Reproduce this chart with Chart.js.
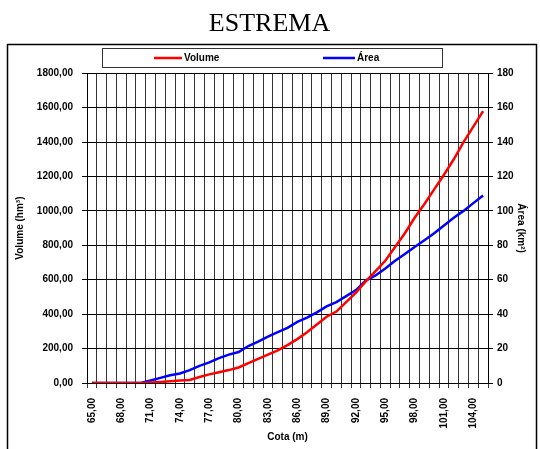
<!DOCTYPE html>
<html>
<head>
<meta charset="utf-8">
<script src="https://cdn.jsdelivr.net/npm/chart.js@4.4.1/dist/chart.umd.min.js"></script>
<style>
  html, body { margin: 0; padding: 0; background: #fff; }
  #wrap { width: 540px; height: 449px; }
</style>
</head>
<body>
<div id="wrap"><canvas id="myChart" width="540" height="449"></canvas></div>
<script>
// cota (m) per category
var cotas = [65, 66, 67, 68, 69, 70, 71, 72, 73, 74, 75, 76, 77, 78, 79, 80, 81, 82, 83, 84,
  85, 86, 87, 88, 89, 90, 91, 92, 93, 94, 95, 96, 97, 98, 99, 100, 101, 102, 103, 104, 105];
// volume (hm3), left axis
var volume = [0, 0, 0, 0, 0, 0, 3, 6, 10, 14, 18, 35, 50, 63, 75, 90, 115, 140, 165, 190,
  220, 255, 295, 340, 385, 415, 470, 525, 590, 650, 710, 790, 870, 960, 1040, 1125, 1210, 1300, 1400, 1490, 1580];
// area (km2), right axis
var area = [0, 0, 0, 0, 0, 0, 1.5, 3, 4.5, 5.5, 7.5, 10, 12, 14.5, 16.5, 18, 21.5, 24, 27, 29.5,
  32, 35.5, 38, 41, 44.5, 47, 50.5, 54, 59.5, 62.5, 66.5, 71, 75, 79, 83, 87, 91.5, 96, 100, 104.5, 109];
var seriesNames = ["Volume", "Área"];
var seriesColors = ["#ff0000", "#0000ff"];

var FONT = "'Liberation Sans', Arial, sans-serif";

function comma2(v) {
  return Number(v).toFixed(2).replace(".", ",");
}

// frame round the chart + the boxed legend
var framePlugin = {
  id: "frame",
  afterDraw: function (chart) {
    var ctx = chart.ctx;
    ctx.save();
    ctx.strokeStyle = "#000";
    ctx.lineWidth = 1.5;
    ctx.strokeRect(7.5, 44.5, 529, 420);

    // legend box
    ctx.lineWidth = 1;
    ctx.strokeStyle = "#333";
    ctx.strokeRect(102.5, 48.5, 340, 19);

    var items = [{ x: 154, w: 28 }, { x: 323, w: 32 }];
    ctx.font = "bold 10px " + FONT;
    ctx.textBaseline = "middle";
    ctx.textAlign = "left";
    for (var i = 0; i < chart.data.datasets.length; i++) {
      var ds = chart.data.datasets[i];
      ctx.strokeStyle = ds.borderColor;
      ctx.lineWidth = 2.5;
      ctx.beginPath();
      ctx.moveTo(items[i].x, 58);
      ctx.lineTo(items[i].x + items[i].w, 58);
      ctx.stroke();
      ctx.fillStyle = "#000";
      ctx.fillText(ds.label, items[i].x + items[i].w + 2, 58);
    }
    ctx.restore();
  }
};

var canvas = document.getElementById("myChart");
var myChart = new Chart(canvas, {
  type: "line",
  data: {
    labels: cotas,
    datasets: [{
      label: seriesNames[0],
      data: volume,
      borderColor: seriesColors[0],
      backgroundColor: seriesColors[0],
      borderWidth: 2.5,
      pointRadius: 0,
      tension: 0,
      yAxisID: "y"
    }, {
      label: seriesNames[1],
      data: area,
      borderColor: seriesColors[1],
      backgroundColor: seriesColors[1],
      borderWidth: 2.5,
      pointRadius: 0,
      tension: 0,
      yAxisID: "y1"
    }]
  },
  options: {
    responsive: false,
    animation: false,
    layout: { padding: { left: 7, right: 8, top: 0, bottom: 0 } },
    plugins: {
      legend: { display: false },
      tooltip: { enabled: false },
      title: {
        display: true,
        text: "ESTREMA",
        color: "#000",
        font: { family: "'Liberation Serif', 'Times New Roman', serif", size: 26, weight: "normal" },
        padding: { top: 9, bottom: 33 }
      }
    },
    scales: {
      x: {
        type: "category",
        offset: true,
        grid: { display: true, offset: true, color: "#333", lineWidth: 1, tickLength: 5, drawOnChartArea: true },
        border: { display: true, color: "#000", width: 1 },
        ticks: {
          autoSkip: false,
          minRotation: 90,
          maxRotation: 90,
          padding: 10,
          color: "#000",
          font: { family: FONT, size: 10, weight: "bold" },
          callback: function (val, idx) {
            return idx % 3 === 0 ? comma2(cotas[idx]) : "";
          }
        },
        title: {
          display: true,
          text: "Cota (m)",
          color: "#000",
          font: { family: FONT, size: 10, weight: "bold" },
          padding: { top: 0, bottom: 6 }
        },
        afterFit: function (scale) { scale.height = 66; }
      },
      y: {
        position: "left",
        min: 0,
        max: 1800,
        grid: { color: "#000", lineWidth: 1, tickLength: 5 },
        border: { display: true, color: "#000", width: 1 },
        ticks: {
          stepSize: 200,
          padding: 9,
          color: "#000",
          font: { family: FONT, size: 10, weight: "bold" },
          callback: function (v) { return comma2(v); }
        },
        title: {
          display: true,
          text: "Volume (hm³)",
          color: "#000",
          font: { family: FONT, size: 10, weight: "bold" },
          padding: { top: 7, bottom: 0 }
        },
        afterFit: function (scale) { scale.width = 80; }
      },
      y1: {
        position: "right",
        min: 0,
        max: 180,
        grid: { drawOnChartArea: false, color: "#000", tickLength: 5 },
        border: { display: true, color: "#000", width: 1 },
        ticks: {
          stepSize: 20,
          padding: 4,
          color: "#000",
          font: { family: FONT, size: 10, weight: "bold" },
          callback: function (v) { return String(v); }
        },
        title: {
          display: true,
          text: "Área (km²)",
          color: "#000",
          font: { family: FONT, size: 10, weight: "bold" },
          padding: { top: 5, bottom: 0 }
        },
        afterFit: function (scale) { scale.width = 44; }
      }
    }
  },
  plugins: [framePlugin]
});
</script>
</body>
</html>
